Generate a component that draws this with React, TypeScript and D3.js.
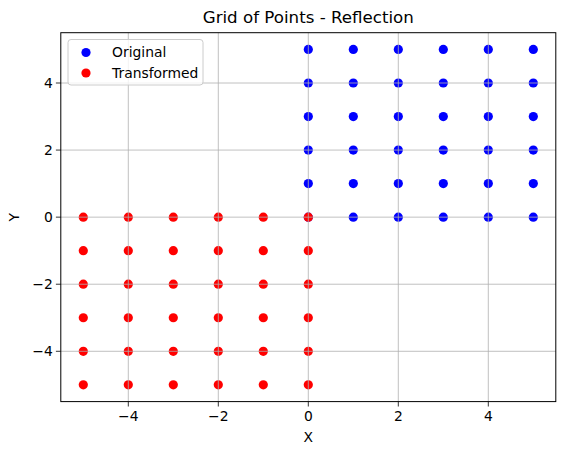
import React from "react";
import * as d3 from "d3";

const originalX = [0, 1, 2, 3, 4, 5];
const originalY = [0, 1, 2, 3, 4, 5];
const transformedX = [-5, -4, -3, -2, -1, 0];
const transformedY = [-5, -4, -3, -2, -1, 0];
const xTicks = [-4, -2, 0, 2, 4];
const yTicks = [-4, -2, 0, 2, 4];
const seriesNames = ["Original", "Transformed"];
const seriesColors = ["#0000ff", "#ff0000"];

const W = 565, H = 455;
const L = 60.8, R = 555.8, T = 32.7, B = 401.6;
const FONT = "DejaVu Sans, sans-serif";

function grid(xs: number[], ys: number[]) {
  const pts: [number, number][] = [];
  xs.forEach((x) => ys.forEach((y) => pts.push([x, y])));
  return pts;
}

const fmt = (v: number) => (v < 0 ? "\u2212" + Math.abs(v) : String(v));

export default function App() {
  const x = d3.scaleLinear().domain([-5.5, 5.5]).range([L, R]);
  const y = d3.scaleLinear().domain([-5.5, 5.5]).range([B, T]);
  const series = [grid(originalX, originalY), grid(transformedX, transformedY)];
  const r = 4.6;
  return (
    <svg width={W} height={H} style={{ display: "block", position: "absolute", left: 0, top: 0 }} fontFamily={FONT}>
      <rect x={0} y={0} width={W} height={H} fill="#fff" />
      <text x={(L + R) / 2} y={23} textAnchor="middle" fontSize={16.67} fill="#000">
        Grid of Points - Reflection
      </text>
      {series.map((pts, i) => (
        <g key={i}>
          {pts.map(([px, py], j) => (
            <circle key={j} cx={x(px)} cy={y(py)} r={r} fill={seriesColors[i]} />
          ))}
        </g>
      ))}
      <g>
        {xTicks.map((t) => (
          <line key={"gx" + t} x1={x(t)} x2={x(t)} y1={T} y2={B} stroke="#b0b0b0" strokeWidth={0.8} />
        ))}
        {yTicks.map((t) => (
          <line key={"gy" + t} x1={L} x2={R} y1={y(t)} y2={y(t)} stroke="#b0b0b0" strokeWidth={0.8} />
        ))}
      </g>
      <rect x={L} y={T} width={R - L} height={B - T} fill="none" stroke="#000" strokeWidth={1} />
      {xTicks.map((t) => (
        <g key={"xt" + t}>
          <line x1={x(t)} x2={x(t)} y1={B} y2={B + 4.9} stroke="#000" strokeWidth={0.8} />
          <text x={x(t)} y={B + 19} textAnchor="middle" fontSize={13.89} fill="#000">
            {fmt(t)}
          </text>
        </g>
      ))}
      {yTicks.map((t) => (
        <g key={"yt" + t}>
          <line x1={L - 4.9} x2={L} y1={y(t)} y2={y(t)} stroke="#000" strokeWidth={0.8} />
          <text x={L - 8} y={y(t) + 5} textAnchor="end" fontSize={13.89} fill="#000">
            {fmt(t)}
          </text>
        </g>
      ))}
      <text x={(L + R) / 2} y={442} textAnchor="middle" fontSize={13.89} fill="#000">X</text>
      <text transform={`translate(19,${(T + B) / 2}) rotate(-90)`} textAnchor="middle" fontSize={13.89} fill="#000">Y</text>
      <g>
        <rect x={68} y={39.5} width={135} height={45.5} rx={3} fill="#fff" fillOpacity={0.8} stroke="#cccccc" strokeWidth={1} />
        {seriesNames.map((n, i) => (
          <g key={n}>
            <circle cx={86} cy={52.5 + i * 20.5} r={r} fill={seriesColors[i]} />
            <text x={112} y={57.3 + i * 20.5} fontSize={13.89} fill="#000">{n}</text>
          </g>
        ))}
      </g>
    </svg>
  );
}
